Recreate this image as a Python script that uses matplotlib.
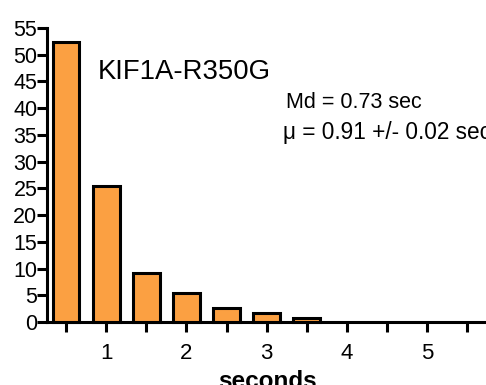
import matplotlib
matplotlib.use("Agg")
import matplotlib.pyplot as plt

plt.rcParams['font.family'] = ['Liberation Sans', 'DejaVu Sans']

bin_centers = [0.5, 1.0, 1.5, 2.0, 2.5, 3.0, 3.5]
percent = [52.4, 25.4, 9.2, 5.5, 2.7, 1.6, 0.8]
x_tick_labels = ['1', '2', '3', '4', '5']
x_tick_label_pos = [1, 2, 3, 4, 5]
y_ticks = list(range(0, 60, 5))

fig = plt.figure(figsize=(4.86, 3.85), dpi=100)
ax = fig.add_axes([47/486, 1-322/385, 1-47/486+0.002, (322-28)/385])

ax.bar(bin_centers, percent, width=0.33, color='#FBA042', edgecolor='black',
       linewidth=2.2, zorder=3, clip_on=False)

ax.set_xlim(0.26, 5.75)
ax.set_ylim(0, 55)
for s in ['top', 'right']:
    ax.spines[s].set_visible(False)
for s in ['left', 'bottom']:
    ax.spines[s].set_linewidth(2.2)

ax.set_yticks(y_ticks)
ax.set_xticks([0.5*i for i in range(1, 12)])
ax.set_xticklabels(['' if (0.5*i) not in x_tick_label_pos else str(int(0.5*i)) for i in range(1, 12)])
ax.tick_params(axis='y', length=7, width=2.2, labelsize=15.5, pad=0)
ax.tick_params(axis='x', length=7, width=2.2, labelsize=16, pad=8)

ax.set_xlabel('seconds', fontsize=17.5, fontweight='bold', labelpad=4.5)

ax.text(0.89, 46.7, 'KIF1A-R350G', fontsize=19.8, va='center', ha='left')
ax.text(3.24, 41.1, 'Md = 0.73 sec', fontsize=15.5, va='center', ha='left')
ax.text(3.21, 35.5, 'μ = 0.91 +/- 0.02 sec', fontsize=16.3, va='center', ha='left')

fig.savefig('out.png', dpi=100)
